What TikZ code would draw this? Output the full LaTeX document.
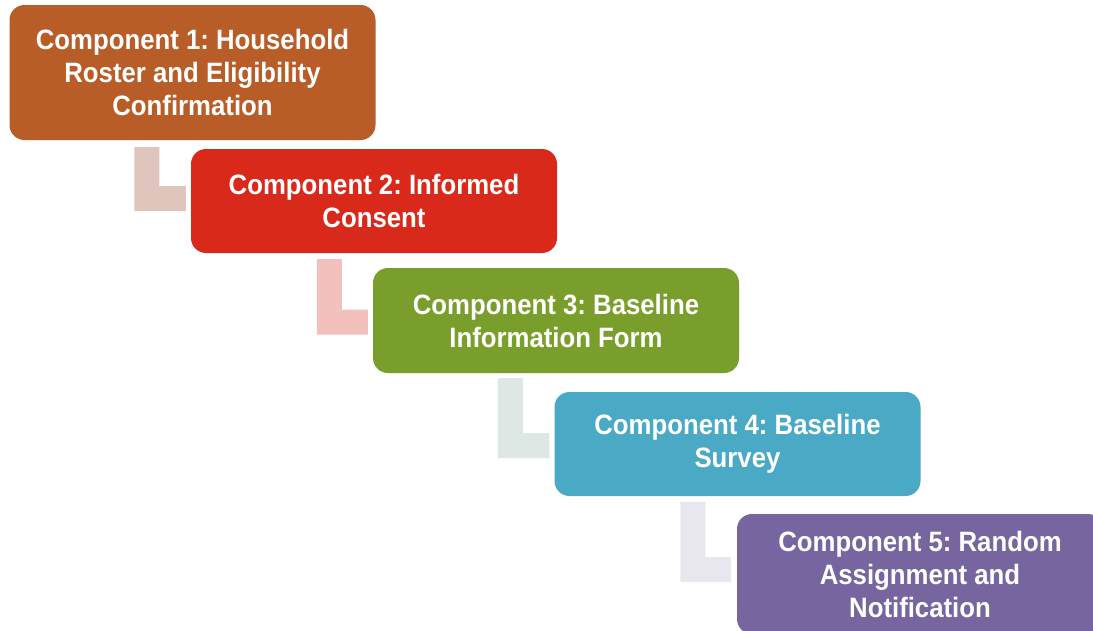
\documentclass[tikz,border=0pt]{standalone}
\usepackage{fontspec}
\setmainfont{Liberation Sans}[FakeStretch=0.92]
\usetikzlibrary{calc}
\frenchspacing
\definecolor{cA}{HTML}{B85C28}
\definecolor{cB}{HTML}{D9291B}
\definecolor{cC}{HTML}{7A9E2B}
\definecolor{cD}{HTML}{4AA9C4}
\definecolor{cE}{HTML}{76659F}
\definecolor{lA}{HTML}{E0C5BD}
\definecolor{lB}{HTML}{F2C0BD}
\definecolor{lC}{HTML}{DDE8E5}
\definecolor{lD}{HTML}{E8E7EE}
\tikzset{
  compbox/.style={rounded corners=15pt, minimum width=366pt, inner sep=0pt,
    text=white, align=center, font=\bfseries\fontsize{28}{33}\selectfont\frenchspacing},
}
\begin{document}
\begin{tikzpicture}[x=1pt,y=-1pt]
\useasboundingbox (0,0) rectangle (1093,630);
\clip (0,0) rectangle (1093,630);
\fill[white] (0,0) rectangle (1093,630);
\node[compbox, fill=cA, minimum height=135pt] (b1) at (192.5,72.5) {Component 1: Household\\Roster and Eligibility\\Confirmation};
\node[compbox, fill=cB, minimum height=104pt] (b2) at (374,201) {Component 2: Informed\\Consent};
\node[compbox, fill=cC, minimum height=105pt] (b3) at (556,320.5) {Component 3: Baseline\\Information Form};
\node[compbox, fill=cD, minimum height=104pt] (b4) at (737.5,444) {Component 4: Baseline\\Survey};
\node[compbox, fill=cE, minimum height=120pt] (b5) at (920,574) {Component 5: Random\\Assignment and\\Notification};
% L-shaped links
\coordinate (t1) at ($(b1.south west)+(125,7)$);
\coordinate (e1) at ($(b2.west)+(-5,10)$);
\fill[lA] (t1) -- ++(25,0) |- ($(e1)+(0,-25)$) -- (e1) -| (t1);
\coordinate (t2) at ($(b2.south west)+(126,6)$);
\coordinate (e2) at ($(b3.west)+(-5,14)$);
\fill[lB] (t2) -- ++(25,0) |- ($(e2)+(0,-25)$) -- (e2) -| (t2);
\coordinate (t3) at ($(b3.south west)+(125,5)$);
\coordinate (e3) at ($(b4.west)+(-5,14)$);
\fill[lC] (t3) -- ++(25,0) |- ($(e3)+(0,-25)$) -- (e3) -| (t3);
\coordinate (t4) at ($(b4.south west)+(126,6)$);
\coordinate (e4) at ($(b5.west)+(-6,8)$);
\fill[lD] (t4) -- ++(25,0) |- ($(e4)+(0,-25)$) -- (e4) -| (t4);
\end{tikzpicture}
\end{document}
